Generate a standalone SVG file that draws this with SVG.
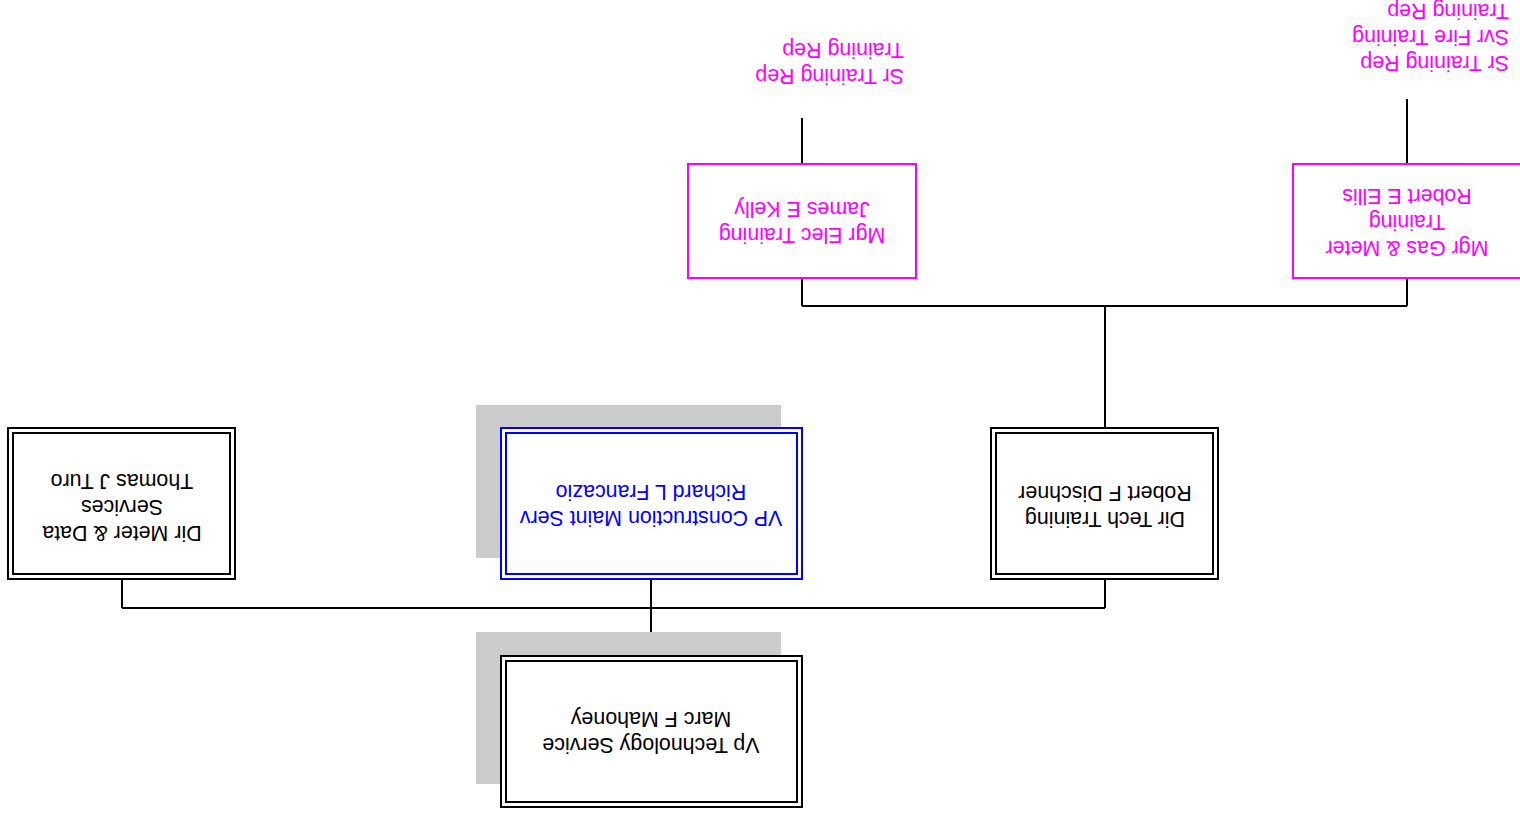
<svg xmlns="http://www.w3.org/2000/svg" width="1520" height="816" viewBox="0 0 1520 816">
  <style>
    .t { font-family: "Liberation Sans", Arial, sans-serif; font-size: 21.4px; }
    .c { text-anchor: middle; }
    .blk { fill: #000000; }
    .blu { fill: #0000FF; }
    .mag { fill: #FF00FF; }
    .box { fill: #FFFFFF; stroke: #000000; stroke-width: 2; }
    .boxb { fill: #FFFFFF; stroke: #0000FF; stroke-width: 2; }
    .boxm { fill: #FFFFFF; stroke: #FF00FF; stroke-width: 2; }
    .inner { fill: none; stroke: #000000; stroke-width: 2; }
    .innerb { fill: none; stroke: #0000FF; stroke-width: 2; }
    .shadow { fill: #CCCCCC; }
    .wire { fill: none; stroke: #000000; stroke-width: 2; }
  </style>
  <rect x="0" y="0" width="1520" height="816" fill="#FFFFFF"/>
  <!-- the whole chart is printed turned half a turn -->
  <g transform="rotate(180 760 408)">
    <g id="connectors">
      <path class="wire" d="M869 160 V237"/>
      <path class="wire" d="M415 208 H1398"/>
      <path class="wire" d="M1398 208 V237"/>
      <path class="wire" d="M415 208 V237"/>
      <path class="wire" d="M415 388 V510"/>
      <path class="wire" d="M113 510 H718"/>
      <path class="wire" d="M718 510 V538"/>
      <path class="wire" d="M113 510 V538"/>
      <path class="wire" d="M718 652 V698"/>
      <path class="wire" d="M113 652 V717"/>
    </g>

    <g id="node-mahoney">
      <rect class="shadow" x="739" y="32" width="305" height="152"/>
      <rect class="box" x="718" y="9" width="301" height="151"/>
      <rect class="inner" x="723" y="14" width="291" height="141"/>
      <text class="t c blk" x="869" y="78">Vp Technology Service</text>
      <text class="t c blk" x="869" y="104">Marc F Mahoney</text>
    </g>

    <g id="node-francazio">
      <rect class="shadow" x="739" y="258" width="305" height="153"/>
      <rect class="boxb" x="718" y="237" width="301" height="151"/>
      <rect class="innerb" x="723" y="242" width="291" height="141"/>
      <text class="t c blu" x="869" y="305">VP Construction Maint Serv</text>
      <text class="t c blu" x="869" y="331">Richard L Francazio</text>
    </g>

    <g id="node-turo">
      <rect class="box" x="1285" y="237" width="227" height="151"/>
      <rect class="inner" x="1290" y="242" width="217" height="141"/>
      <text class="t c blk" x="1398" y="290">Dir Meter &amp; Data</text>
      <text class="t c blk" x="1398" y="316">Services</text>
      <text class="t c blk" x="1398" y="342">Thomas J Turo</text>
    </g>

    <g id="node-dischner">
      <rect class="box" x="302" y="237" width="227" height="151"/>
      <rect class="inner" x="307" y="242" width="217" height="141"/>
      <text class="t c blk" x="415" y="304">Dir Tech Training</text>
      <text class="t c blk" x="415" y="330">Robert F Dischner</text>
    </g>

    <g id="node-kelly">
      <rect class="boxm" x="604" y="538" width="228" height="114"/>
      <text class="t c mag" x="718" y="588">Mgr Elec Training</text>
      <text class="t c mag" x="718" y="614">James E Kelly</text>
    </g>

    <g id="node-ellis">
      <rect class="boxm" x="-1" y="538" width="228" height="114"/>
      <text class="t c mag" x="113" y="575">Mgr Gas &amp; Meter</text>
      <text class="t c mag" x="113" y="601">Training</text>
      <text class="t c mag" x="113" y="627">Robert E Ellis</text>
    </g>

    <g id="node-elec-rep">
      <text class="t mag" x="616" y="747">Sr Training Rep</text>
      <text class="t mag" x="616" y="773">Training Rep</text>
    </g>

    <g id="node-gas-rep">
      <text class="t mag" x="11" y="760">Sr Training Rep</text>
      <text class="t mag" x="11" y="786">Svr Fire Training</text>
      <text class="t mag" x="11" y="812">Training Rep</text>
    </g>
  </g>
</svg>
